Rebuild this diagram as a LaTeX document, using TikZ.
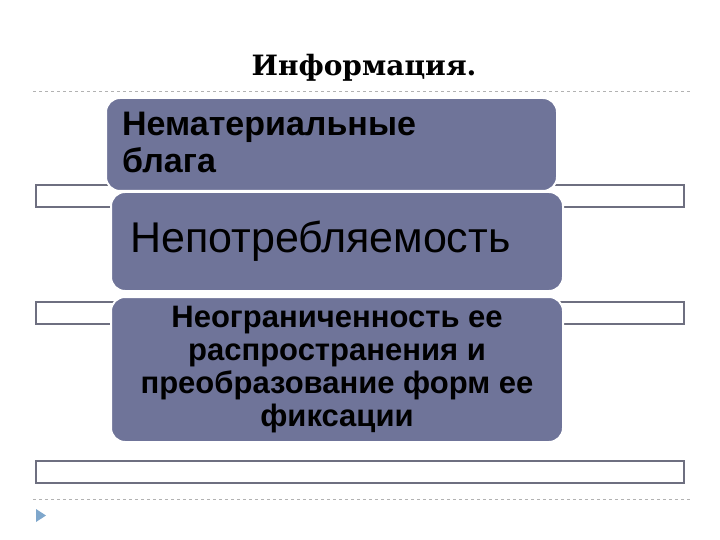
\documentclass[tikz,border=0pt]{standalone}
\usepackage{fontspec}
\setmainfont{Liberation Sans}
\newfontfamily\titlefont{DejaVu Serif}
\definecolor{boxc}{HTML}{6F7499}
\definecolor{barc}{HTML}{6E6F80}
\definecolor{tri}{HTML}{7FA7CC}
\tikzset{
 bar/.style={draw=barc,line width=2.5pt,fill=white},
 card/.style={fill=boxc,draw=white,line width=2pt,rounded corners=14pt},
 sep/.style={draw=gray!60,dashed,line width=0.5pt},
}
\begin{document}
\begin{tikzpicture}[x=1pt,y=-1pt]
\useasboundingbox (0,0) rectangle (720,540);
\node[font=\titlefont\fontsize{28}{30}\selectfont\bfseries] (title) at (364,68) {Информация.};
\coordinate (d1a) at (33,91); \coordinate (d1b) at (690,91);
\draw[sep] (d1a) -- (d1b);
\coordinate (d2a) at (33,499); \coordinate (d2b) at (690,499);
\draw[sep] (d2a) -- (d2b);
\draw[bar] (36,185) rectangle (684,207);
\draw[bar] (36,302) rectangle (684,324);
\draw[bar] (36,461) rectangle (684,483);
\draw[card] (106,98) rectangle (557,191);
\node[anchor=north west,align=left,inner sep=0pt,font=\fontsize{34}{37}\selectfont\bfseries] (t1) at (122,112) {Нематериальные\\блага};
\draw[card] (111,192) rectangle (563,291);
\node[anchor=west,inner sep=0pt,font=\fontsize{43}{45}\selectfont] (t2) at (130,241) {Непотребляемость};
\draw[card] (111,297) rectangle (563,442);
\node[align=center,font=\fontsize{31}{33}\selectfont\bfseries] (t3) at (337,370) {Неограниченность ее\\распространения и\\преобразование форм ее\\фиксации};
\fill[tri] (36,509) -- (46,515.5) -- (36,522) -- cycle;
\end{tikzpicture}
\end{document}
